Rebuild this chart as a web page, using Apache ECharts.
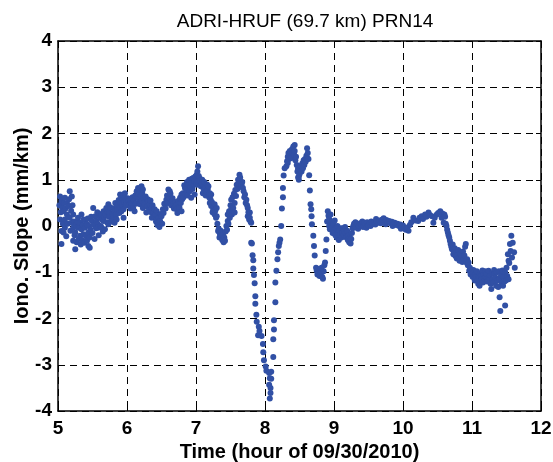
<!DOCTYPE html>
<html>
<head>
    <meta charset="utf-8">
    <script src="https://cdn.jsdelivr.net/npm/echarts@6/dist/echarts.min.js"></script>
</head>
<body style="margin:0">
    <div id="main" style="width:553px;height:462px"></div>
    <script type="text/javascript">
        // [hour, slope mm/km], one array per stretch
        var hour5 = [[5.02,0.45],[5.03,0.64],[5.03,0.14],[5.04,0.30],[5.05,0.54],[5.05,-0.11],[5.05,-0.39],[5.06,0.40],[5.07,0.05],[5.08,0.32],[5.08,-0.14],[5.09,0.50],[5.10,0.61],[5.10,0.14],[5.10,-0.04],[5.11,0.38],[5.12,-0.22],[5.13,0.50],[5.13,0.25],[5.14,0.05],[5.15,0.43],[5.16,0.58],[5.17,0.75],[5.17,0.18],[5.18,-0.10],[5.19,0.33],[5.20,0.64],[5.20,0.07],[5.21,0.45],[5.22,0.25],[5.22,-0.04],[5.22,-0.32],[5.23,0.10],[5.24,-0.20],[5.25,-0.14],[5.25,-0.50],[5.26,0.02],[5.27,-0.35],[5.28,0.10],[5.29,0.18],[5.29,-0.04],[5.30,-0.28],[5.31,0.00],[5.32,0.07],[5.32,-0.21],[5.33,-0.40],[5.34,0.25],[5.34,-0.07],[5.35,-0.30],[5.36,0.02],[5.37,0.14],[5.37,-0.18],[5.38,-0.36],[5.39,-0.04],[5.40,0.12],[5.41,-0.22],[5.42,0.04],[5.42,-0.32],[5.43,0.16],[5.44,-0.14],[5.44,-0.43],[5.45,0.00],[5.46,-0.25],[5.46,-0.47],[5.47,-0.08],[5.48,0.20],[5.49,0.11],[5.50,-0.15],[5.51,0.39],[5.52,0.02],[5.53,-0.28],[5.54,0.21],[5.55,-0.05],[5.56,0.11],[5.57,0.30],[5.58,0.04],[5.58,-0.04],[5.59,-0.20],[5.60,0.26],[5.61,0.18],[5.62,0.00],[5.63,0.25],[5.63,-0.04],[5.64,0.14],[5.65,-0.12],[5.66,0.11],[5.66,0.32],[5.67,0.20],[5.68,-0.07],[5.69,0.25],[5.70,0.39],[5.71,0.08],[5.72,0.30],[5.73,0.47],[5.73,0.04],[5.74,0.20],[5.75,0.29],[5.76,0.40],[5.77,0.10],[5.78,0.14],[5.78,-0.32],[5.79,0.26],[5.80,0.21],[5.81,0.38],[5.82,0.32],[5.82,0.07],[5.83,0.50],[5.84,0.24],[5.85,0.43],[5.85,0.14],[5.86,0.35],[5.87,0.47],[5.88,0.56],[5.89,0.28],[5.90,0.39],[5.90,0.68],[5.91,0.50],[5.92,0.61],[5.92,0.32],[5.93,0.45],[5.94,0.58],[5.95,0.68],[5.95,0.18],[5.95,0.36],[5.96,0.52],[5.97,0.71],[5.97,0.61],[5.98,0.44],[5.99,0.54],[5.99,0.47]];
        var hour6 = [[6.01,0.60],[6.02,0.54],[6.03,0.45],[6.04,0.57],[6.05,0.38],[6.06,0.50],[6.07,0.47],[6.08,0.62],[6.09,0.39],[6.10,0.55],[6.11,0.32],[6.12,0.66],[6.13,0.48],[6.14,0.75],[6.15,0.62],[6.16,0.82],[6.16,0.61],[6.17,0.70],[6.18,0.52],[6.19,0.79],[6.19,0.47],[6.20,0.66],[6.21,0.86],[6.21,0.54],[6.22,0.72],[6.23,0.79],[6.23,0.39],[6.24,0.60],[6.25,0.50],[6.26,0.47],[6.27,0.64],[6.28,0.29],[6.29,0.42],[6.30,0.58],[6.31,0.54],[6.32,0.35],[6.33,0.47],[6.34,0.55],[6.35,0.30],[6.36,0.39],[6.36,0.18],[6.37,0.45],[6.38,0.29],[6.39,0.20],[6.40,0.36],[6.41,0.25],[6.42,0.10],[6.43,0.14],[6.43,0.32],[6.44,0.02],[6.45,0.07],[6.46,0.18],[6.47,-0.02],[6.48,0.11],[6.49,0.26],[6.50,0.21],[6.51,0.05],[6.52,0.36],[6.53,0.28],[6.54,0.48],[6.55,0.47],[6.56,0.38],[6.57,0.57],[6.58,0.66],[6.59,0.50],[6.60,0.79],[6.61,0.62],[6.62,0.75],[6.62,0.61],[6.63,0.70],[6.64,0.45],[6.65,0.54],[6.66,0.60],[6.67,0.47],[6.68,0.38],[6.69,0.39],[6.70,0.52],[6.71,0.44],[6.72,0.36],[6.73,0.28],[6.74,0.47],[6.75,0.55],[6.76,0.40],[6.77,0.61],[6.78,0.50],[6.79,0.68],[6.79,0.32],[6.80,0.58],[6.81,0.71],[6.82,0.62],[6.83,0.88],[6.84,0.82],[6.85,0.70],[6.86,0.79],[6.87,0.95],[6.88,0.66],[6.89,0.89],[6.90,1.00],[6.91,0.75],[6.92,0.85],[6.93,0.93],[6.93,0.61],[6.94,1.02],[6.95,0.80],[6.96,1.04],[6.97,0.90],[6.98,0.97],[6.98,0.68],[6.99,1.07]];
        var hour7 = [[7.00,0.92],[7.01,1.11],[7.01,0.89],[7.02,1.18],[7.03,1.29],[7.03,0.97],[7.04,1.08],[7.05,1.04],[7.06,0.98],[7.07,0.86],[7.08,0.93],[7.09,1.00],[7.10,0.89],[7.10,0.71],[7.11,0.80],[7.12,0.95],[7.13,0.82],[7.14,0.66],[7.15,0.75],[7.16,0.90],[7.17,0.79],[7.18,0.86],[7.19,0.62],[7.20,0.71],[7.20,0.50],[7.21,0.58],[7.22,0.68],[7.22,0.43],[7.23,0.52],[7.24,0.30],[7.25,0.36],[7.25,0.29],[7.26,0.42],[7.27,0.47],[7.27,0.25],[7.28,0.33],[7.29,0.18],[7.30,0.39],[7.30,0.21],[7.31,0.05],[7.32,-0.11],[7.33,-0.06],[7.34,-0.14],[7.34,-0.25],[7.35,-0.18],[7.36,-0.10],[7.37,-0.21],[7.38,-0.30],[7.39,-0.29],[7.39,-0.18],[7.40,-0.35],[7.41,-0.25],[7.42,-0.32],[7.43,-0.12],[7.44,0.00],[7.45,-0.08],[7.46,0.11],[7.46,0.25],[7.47,0.05],[7.48,0.32],[7.49,0.18],[7.50,0.45],[7.51,0.36],[7.51,0.57],[7.52,0.25],[7.53,0.62],[7.54,0.39],[7.55,0.70],[7.56,0.50],[7.56,0.29],[7.57,0.78],[7.58,0.65],[7.59,0.89],[7.60,0.80],[7.61,1.00],[7.62,0.92],[7.63,1.11],[7.63,0.97],[7.64,1.05],[7.65,0.85],[7.66,0.89],[7.67,0.95],[7.68,0.82],[7.69,0.75],[7.70,0.62],[7.71,0.68],[7.72,0.50],[7.73,0.57],[7.74,0.45],[7.75,0.39],[7.75,0.21],[7.76,0.30],[7.77,0.14],[7.78,0.29],[7.78,0.18],[7.79,0.10],[7.80,0.07]];
        // the deep drop and the recovery
        var dropAndRise = [[7.80,-0.36],[7.81,-0.38],[7.82,-0.63],[7.83,-0.74],[7.83,-0.92],[7.84,-1.06],[7.85,-1.24],[7.86,-1.52],[7.86,-1.68],[7.875,-1.92],[7.88,-2.07],[7.90,-2.36],[7.91,-2.18],[7.92,-2.27],[7.95,-2.38],[7.97,-2.55],[7.975,-2.73],[7.985,-2.90],[8.01,-3.04],[8.02,-3.13],[8.06,-3.18],[8.09,-3.15],[8.07,-3.29],[8.09,-3.30],[8.06,-3.43],[8.08,-3.50],[8.08,-3.61],[8.07,-3.73],
            [8.12,-2.83],[8.12,-2.45],[8.13,-2.24],[8.13,-2.04],[8.15,-1.65],[8.15,-1.22],[8.165,-0.97],[8.18,-0.72],[8.19,-0.57],[8.20,-0.43],[8.21,-0.36],[8.22,-0.29],[8.235,0.00],[8.245,0.38],[8.26,0.62],[8.26,0.82],[8.27,1.09],[8.285,1.25],[8.31,1.29]];
        var hump = [[8.32,1.40],[8.33,1.50],[8.33,1.36],[8.34,1.58],[8.35,1.45],[8.36,1.54],[8.36,1.62],[8.37,1.48],[8.38,1.47],[8.39,1.66],[8.40,1.58],[8.41,1.72],[8.42,1.55],[8.43,1.75],[8.43,1.62],[8.44,1.42],[8.45,1.50],[8.46,1.32],[8.47,1.18],[8.48,1.25],[8.48,1.05],[8.49,1.00],[8.49,1.07],[8.50,1.12],[8.51,1.22],[8.52,1.30],[8.53,1.18],[8.54,1.35],[8.55,1.25],[8.56,1.42],[8.57,1.32],[8.58,1.45],[8.59,1.39],[8.60,1.52],[8.61,1.68],[8.61,1.47],[8.62,1.58],[8.63,1.45],[8.64,1.10],
            [8.65,0.77],[8.66,0.47],[8.67,0.36],[8.675,0.21],[8.68,0.04],[8.70,-0.21],[8.71,-0.43],[8.72,-0.64],[8.74,-0.90],[8.75,-0.97],[8.76,-1.05],[8.77,-0.93],[8.78,-1.00],[8.79,-1.08],[8.80,-0.95],[8.81,-1.02],[8.82,-0.90],[8.83,-1.10],[8.84,-1.14],[8.85,-0.98],[8.86,-0.85],[8.87,-0.79],[8.88,-0.54],[8.89,-0.29]];
        var hour9 = [[8.90,0.10],[8.91,0.32],[8.92,0.22],[8.93,0.15],[8.93,0.00],[8.94,-0.07],[8.95,0.25],[8.96,0.10],[8.97,-0.05],[8.98,-0.15],[8.99,0.05],[9.00,-0.10],[9.01,0.12],[9.02,-0.20],[9.03,-0.05],[9.04,-0.25],[9.05,0.00],[9.06,-0.15],[9.07,-0.30],[9.08,-0.10],[9.09,-0.20],[9.10,-0.05],[9.11,-0.25],[9.12,-0.15],[9.13,-0.05],[9.14,-0.20],[9.15,-0.10],[9.16,-0.02],[9.17,-0.15],[9.18,-0.25],[9.19,-0.10],[9.20,-0.30],[9.21,-0.20],[9.22,-0.35],[9.23,-0.25],[9.24,-0.38],[9.25,-0.28],[9.26,-0.15],[9.27,-0.05],[9.28,0.00],[9.29,0.05],
            [9.30,0.02],[9.31,0.08],[9.32,-0.03],[9.34,0.05],[9.35,-0.06],[9.36,0.00],[9.38,0.06],[9.40,0.02],[9.41,0.10],[9.42,-0.02],[9.44,0.07],[9.46,0.03],[9.47,-0.04],[9.48,0.08],[9.50,0.01],[9.52,0.06],[9.53,0.00],[9.54,0.10],[9.56,0.04],[9.58,0.08],[9.60,0.03],[9.61,0.15],[9.62,0.11],[9.64,0.07],[9.66,0.12],[9.68,0.06],[9.70,0.14],[9.72,0.17],[9.74,0.10],[9.75,0.04],[9.76,0.13],[9.78,0.08],[9.80,0.11],[9.82,0.06],[9.84,0.09],[9.85,0.00],[9.86,0.04],[9.88,0.07],[9.90,0.02],[9.92,0.05],[9.94,0.00],[9.96,0.03],[9.97,-0.06],[9.98,-0.02]];
        var hour10 = [[10.00,0.01],[10.02,-0.04],[10.04,-0.08],[10.06,-0.03],[10.08,-0.10],[10.10,0.02],[10.12,0.08],[10.15,0.18],[10.18,0.12],[10.22,0.11],[10.24,0.18],[10.27,0.21],[10.29,0.15],[10.32,0.25],[10.34,0.20],[10.37,0.29],[10.39,0.24],[10.42,0.21],[10.44,0.07],[10.46,0.18],[10.49,0.25],[10.51,0.28],[10.54,0.32],[10.56,0.18],[10.57,0.27],[10.59,0.07],[10.60,0.25],[10.61,0.20],[10.62,0.05],[10.63,0.00],[10.64,-0.08],[10.65,-0.14],[10.66,-0.20],[10.67,-0.25],[10.68,-0.32],[10.69,-0.39],[10.70,-0.45],[10.71,-0.50],[10.72,-0.40],[10.73,-0.61],[10.74,-0.55],[10.75,-0.48],[10.76,-0.65],[10.77,-0.57],[10.78,-0.70],[10.79,-0.62],[10.80,-0.52],[10.81,-0.68],[10.82,-0.75],[10.83,-0.60],[10.84,-0.72],[10.85,-0.64],[10.86,-0.78],[10.87,-0.55],[10.88,-0.70],[10.89,-0.64],[10.90,-0.45],[10.91,-0.39],[10.92,-0.79],[10.93,-0.72],[10.94,-0.85],[10.95,-0.79],[10.96,-0.97],[10.97,-0.90],[10.98,-1.05],[10.99,-0.95]];
        var hour11 = [[11.00,-1.00],[11.01,-1.10],[11.02,-0.95],[11.03,-1.00],[11.04,-1.18],[11.05,-1.05],[11.06,-1.11],[11.07,-0.98],[11.08,-1.18],[11.09,-1.25],[11.10,-1.08],[11.11,-1.29],[11.12,-1.02],[11.13,-1.07],[11.14,-1.15],[11.15,-0.96],[11.16,-1.22],[11.17,-1.05],[11.18,-1.14],[11.19,-0.98],[11.20,-1.10],[11.21,-1.04],[11.22,-1.20],[11.23,-1.18],[11.24,-0.97],[11.25,-1.12],[11.26,-1.07],[11.27,-1.25],[11.28,-1.36],[11.29,-1.02],[11.30,-1.15],[11.31,-1.22],[11.32,-0.95],[11.33,-1.04],[11.34,-1.12],[11.35,-1.29],[11.36,-1.00],[11.37,-1.18],[11.38,-1.32],[11.39,-0.98],[11.40,-1.14],[11.40,-1.54],[11.41,-1.84],[11.42,-1.07],[11.43,-1.25],[11.44,-0.96],[11.45,-1.29],[11.46,-1.10],[11.47,-1.20],[11.48,-1.72],[11.48,-1.00],[11.49,-1.18],[11.50,-0.90],[11.51,-1.08],[11.52,-0.61],[11.53,-0.75],[11.53,-1.15],[11.54,-0.80],[11.55,-0.39],[11.56,-0.54],[11.57,-0.21],[11.58,-0.68],[11.59,-0.36],[11.61,-0.57],[11.62,-0.90]];

        var xTicks = [5, 6, 7, 8, 9, 10, 11, 12];
        var yTicks = [-4, -3, -2, -1, 0, 1, 2, 3, 4];

        var points = hour5.concat(hour6, hour7, dropAndRise, hump, hour9, hour10, hour11);

        var tickFont = { color: '#000', fontSize: 19, fontWeight: 'bold', fontFamily: 'Liberation Sans' };
        var dash = { show: true, lineStyle: { color: '#000', width: 1, type: [7, 5] } };
        var frame = { show: true, onZero: false, lineStyle: { color: '#000', width: 1.5 } };
        var ticksIn = { show: true, inside: true, length: 5, lineStyle: { color: '#000' } };

        var myChart = echarts.init(document.getElementById('main'));
        var option = {
            animation: false,
            backgroundColor: '#fff',
            title: {
                text: 'ADRI-HRUF (69.7 km) PRN14',
                left: 300, top: 7, textAlign: 'center',
                textStyle: { color: '#000', fontSize: 19, fontWeight: 'normal', fontFamily: 'Liberation Sans' }
            },
            grid: { left: 58, right: 12, top: 41, bottom: 51, outerBoundsMode: 'none', containLabel: false },
            xAxis: [{
                type: 'value', min: xTicks[0], max: xTicks[xTicks.length - 1], interval: 1,
                name: 'Time (hour of 09/30/2010)', nameLocation: 'middle', nameGap: 29,
                nameTextStyle: { color: '#000', fontSize: 20, fontWeight: 'bold', fontFamily: 'Liberation Sans' },
                axisLine: frame, axisTick: ticksIn, splitLine: dash,
                axisLabel: Object.assign({ margin: 8 }, tickFont)
            }, {
                type: 'value', position: 'top', min: xTicks[0], max: xTicks[xTicks.length - 1], interval: 1,
                axisLine: frame, axisTick: ticksIn, splitLine: { show: false }, axisLabel: { show: false }
            }],
            yAxis: [{
                type: 'value', min: yTicks[0], max: yTicks[yTicks.length - 1], interval: 1,
                name: 'Iono. Slope (mm/km)', nameLocation: 'middle', nameGap: 26, nameMoveOverlap: false,
                nameTextStyle: { color: '#000', fontSize: 20, fontWeight: 'bold', fontFamily: 'Liberation Sans' },
                axisLine: frame, axisTick: ticksIn, splitLine: dash,
                axisLabel: Object.assign({ margin: 6 }, tickFont)
            }, {
                type: 'value', position: 'right', min: yTicks[0], max: yTicks[yTicks.length - 1], interval: 1,
                axisLine: frame, axisTick: ticksIn, splitLine: { show: false }, axisLabel: { show: false }
            }],
            series: [{
                type: 'scatter',
                symbolSize: 6,
                itemStyle: { color: '#3150a5', opacity: 1 },
                data: points
            }]
        };
        myChart.setOption(option);
    </script>
</body>
</html>
